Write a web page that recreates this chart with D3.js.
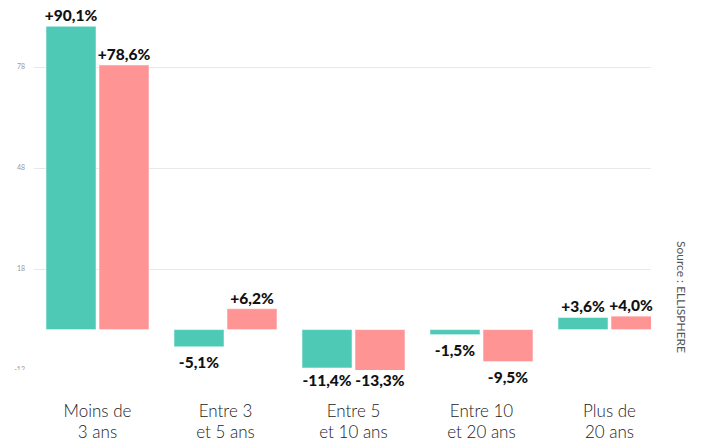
<!DOCTYPE html>
<html lang="fr">
<head>
<meta charset="UTF-8">
<title>Variation par ancienneté</title>
<script src="https://d3js.org/d3.v7.min.js"></script>
<style>
  body { margin: 0; background: #fff; }
  svg { display: block; }
  .grid line { stroke: #e8e8e8; stroke-width: 1px; }
  .tick-label { font-family: Lato, sans-serif; font-size: 7px; fill: #999; }
  .val { font-family: Lato, sans-serif; font-weight: 900; font-size: 15.5px; fill: #111; }
  .cat { font-family: Lato, sans-serif; font-weight: 300; font-size: 17px; fill: #222; }
  .src { font-family: Lato, sans-serif; font-size: 12px; fill: #555; }
</style>
</head>
<body>
<svg width="704" height="444"></svg>
<script>
const categories = [["Moins de", "3 ans"], ["Entre 3", "et 5 ans"], ["Entre 5", "et 10 ans"], ["Entre 10", "et 20 ans"], ["Plus de", "20 ans"]];
const seriesNames = ["A", "B"];
const seriesA = [90.1, -5.1, -11.4, -1.5, 3.6];
const seriesB = [78.6, 6.2, -13.3, -9.5, 4.0];
const yTicks = [78, 48, 18, -12];
const colors = ["#4dc9b6", "#ff9494"];

const svg = d3.select("svg");
const plot = { left: 34, right: 651, bottom: 370 };

const keys = categories.map(c => c.join(" "));
const x = d3.scaleBand().domain(keys).range([33.5, 673.5]).padding(0);
const xs = d3.scaleBand().domain(seriesNames).range([-51.5, 51.5]).paddingInner(0.0566);
const y = d3.scaleLinear().domain([-12, 78]).range([370, 67]);

const fmt = v => (v > 0 ? "+" : "") + v.toFixed(1).replace(".", ",") + "%";

svg.append("defs").append("clipPath").attr("id", "plotclip")
  .append("rect").attr("x", 0).attr("y", 0).attr("width", plot.right).attr("height", plot.bottom);

// grid
svg.append("g").attr("class", "grid")
  .selectAll("line").data(yTicks.filter(t => t !== -12)).enter().append("line")
  .attr("x1", plot.left).attr("x2", plot.right)
  .attr("y1", d => Math.round(y(d)) + 0.5).attr("y2", d => Math.round(y(d)) + 0.5);

svg.append("g").attr("clip-path", "url(#plotclip)")
  .selectAll("text").data(yTicks).enter().append("text")
  .attr("class", "tick-label")
  .attr("x", 25).attr("y", d => y(d)).attr("dy", "0.35em")
  .attr("text-anchor", "end").text(d => d);

const data = [];
keys.forEach((k, i) => {
  data.push({ cat: k, s: "A", v: seriesA[i], c: colors[0] });
  data.push({ cat: k, s: "B", v: seriesB[i], c: colors[1] });
});

const barX = d => x(d.cat) + x.bandwidth() / 2 + xs(d.s);
const visW = d => Math.min(barX(d) + xs.bandwidth(), plot.right) - barX(d);

svg.append("g").attr("clip-path", "url(#plotclip)")
  .selectAll("rect").data(data).enter().append("rect")
  .attr("x", barX)
  .attr("width", xs.bandwidth())
  .attr("y", d => y(Math.max(0, d.v)))
  .attr("height", d => Math.abs(y(d.v) - y(0)))
  .attr("fill", d => d.c)
  .attr("stroke", "#fff").attr("stroke-opacity", 0.5).attr("stroke-width", 1);

// negative labels sit under the bar, but never below the plot's label row
svg.append("g").selectAll("text").data(data).enter().append("text")
  .attr("class", "val")
  .attr("x", d => barX(d) + visW(d) / 2)
  .attr("y", d => d.v >= 0 ? y(d.v) - 5 : Math.min(y(d.v) + 21, 386))
  .attr("text-anchor", "middle")
  .text(d => fmt(d.v));

const cat = svg.append("g").selectAll("text").data(categories).enter().append("text")
  .attr("class", "cat")
  .attr("x", (d, i) => x(keys[i]) + x.bandwidth() / 2)
  .attr("y", 417)
  .attr("text-anchor", "middle");
cat.append("tspan").text(d => d[0]);
cat.append("tspan").attr("x", (d, i) => x(keys[i]) + x.bandwidth() / 2).attr("dy", 21).text(d => d[1]);

svg.append("text").attr("class", "src")
  .attr("transform", "translate(677,297) rotate(90)")
  .attr("text-anchor", "middle")
  .text("Source : ELLISPHERE");
</script>
</body>
</html>
